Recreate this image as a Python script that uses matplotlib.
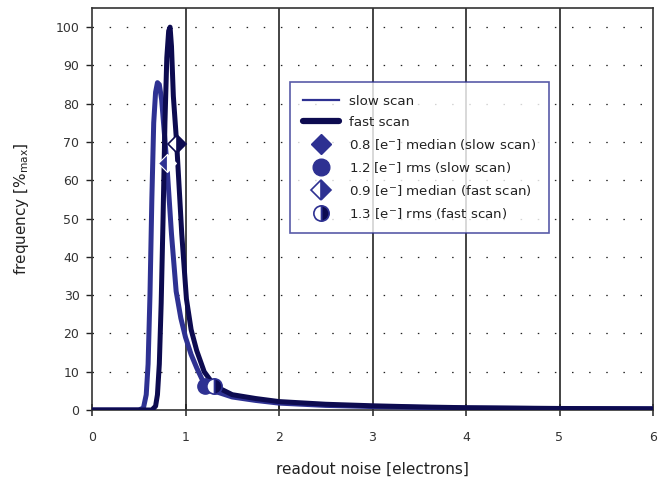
import matplotlib
matplotlib.use("Agg")
import matplotlib.pyplot as plt
from matplotlib.lines import Line2D

plt.rcParams['font.family'] = ['DejaVu Sans']

# slow scan histogram
slow_x = [0, 0.50, 0.55, 0.58, 0.60, 0.62, 0.64, 0.66, 0.68, 0.70, 0.72, 0.745, 0.78, 0.80,
          0.85, 0.90, 0.95, 1.00, 1.06, 1.12, 1.21, 1.30, 1.50, 1.75, 2.0, 2.5, 3.0, 3.5, 4.0, 5.0, 6.0]
slow_y = [0, 0, 0.5, 4, 12, 30, 55, 75, 83, 85.5, 85, 81, 70.5, 64.5,
          46, 31, 24, 19, 14.5, 11, 6.3, 5.0, 3.4, 2.5, 1.8, 1.2, 0.9, 0.7, 0.5, 0.35, 0.3]

# fast scan histogram
fast_x = [0, 0.64, 0.68, 0.70, 0.72, 0.74, 0.76, 0.78, 0.80, 0.82, 0.835, 0.85, 0.87, 0.906,
          0.96, 1.01, 1.06, 1.12, 1.20, 1.31, 1.50, 1.75, 2.0, 2.5, 3.0, 3.5, 4.0, 5.0, 6.0]
fast_y = [0, 0, 1, 4, 12, 28, 50, 75, 92, 99, 100, 95, 82, 69.5,
          46, 29, 21, 15.5, 10, 6.3, 4.0, 3.0, 2.2, 1.5, 1.1, 0.8, 0.6, 0.4, 0.3]

# statistics markers
median_slow = (0.8, 64.5)
rms_slow = (1.21, 6.3)
median_fast = (0.906, 69.5)
rms_fast = (1.31, 6.3)

labels = ["slow scan", "fast scan",
          "0.8 [e$^{-}$] median (slow scan)",
          "1.2 [e$^{-}$] rms (slow scan)",
          "0.9 [e$^{-}$] median (fast scan)",
          "1.3 [e$^{-}$] rms (fast scan)"]

c_slow = '#2E3192'
c_fast = '#0D0B50'

fig = plt.figure(figsize=(6.61, 4.82), dpi=100)
ax = fig.add_axes([92/661, 72/482, (653-92)/661, (410-8)/482])

ax.set_xlim(0, 6)
ax.set_ylim(0, 105)
ax.set_xticks(range(0, 7))
ax.set_yticks(range(0, 101, 10))

for xv in range(1, 6):
    ax.axvline(xv, color='#111111', lw=1.1, zorder=1)
for yv in range(10, 101, 10):
    ax.axhline(yv, color='#222222', lw=0.9, linestyle=(0, (1.2, 12.5)), zorder=1)

ax.plot(slow_x, slow_y, color=c_slow, lw=3.6, solid_joinstyle='round', zorder=3)
ax.plot(fast_x, fast_y, color=c_fast, lw=3.6, solid_joinstyle='round', zorder=4)

ms = 11
ax.plot(*median_slow, marker='D', ms=ms-2, color=c_slow, mec='white', mew=0.8,
        fillstyle='left', markerfacecoloralt='white', zorder=5)
ax.plot(*median_fast, marker='D', ms=ms-2, color=c_fast, mec=c_fast, mew=1.2,
        fillstyle='right', markerfacecoloralt='white', zorder=5)
ax.plot(*rms_slow, marker='o', ms=ms, color=c_slow, mec=c_slow, zorder=5)
ax.plot(*rms_fast, marker='o', ms=ms, color=c_fast, mec=c_slow, mew=1.2,
        fillstyle='right', markerfacecoloralt='white', zorder=6)

for s in ax.spines.values():
    s.set_color('#333333')
    s.set_linewidth(1.2)
ax.tick_params(axis='x', direction='inout', length=8, width=1.1, color='#222222',
               labelsize=9, labelcolor='#333333', pad=11)
ax.tick_params(axis='y', direction='out', length=4, width=1.0, color='#222222',
               labelsize=9, labelcolor='#333333', pad=5)

ax.set_xlabel("readout noise [electrons]", fontsize=11, color='#222222', labelpad=13)
ax.set_ylabel("frequency [%$_{\\mathrm{max}}$]", fontsize=11, color='#222222', labelpad=18)

handles = [
    Line2D([], [], color=c_slow, lw=1.6),
    Line2D([], [], color=c_fast, lw=4.5, solid_capstyle='round'),
    Line2D([], [], ls='none', marker='D', ms=ms-1, color=c_slow),
    Line2D([], [], ls='none', marker='o', ms=ms+1, color=c_slow),
    Line2D([], [], ls='none', marker='D', ms=ms-1, color=c_slow, mec=c_slow, mew=1.2,
           fillstyle='right', markerfacecoloralt='white'),
    Line2D([], [], ls='none', marker='o', ms=ms, color=c_fast, mec=c_slow, mew=1.2,
           fillstyle='right', markerfacecoloralt='white'),
]
leg = fig.legend(handles, labels, loc='upper left', bbox_to_anchor=(290/661, 1-82/482),
                 fontsize=9.6, frameon=True, fancybox=False, borderpad=0.95,
                 labelspacing=0.6, handlelength=2.7, handletextpad=0.8,
                 borderaxespad=0)
leg.get_frame().set_edgecolor(c_slow)
leg.get_frame().set_linewidth(1.2)
for t in leg.get_texts():
    t.set_color('#222222')

fig.savefig("out.png", dpi=100)
